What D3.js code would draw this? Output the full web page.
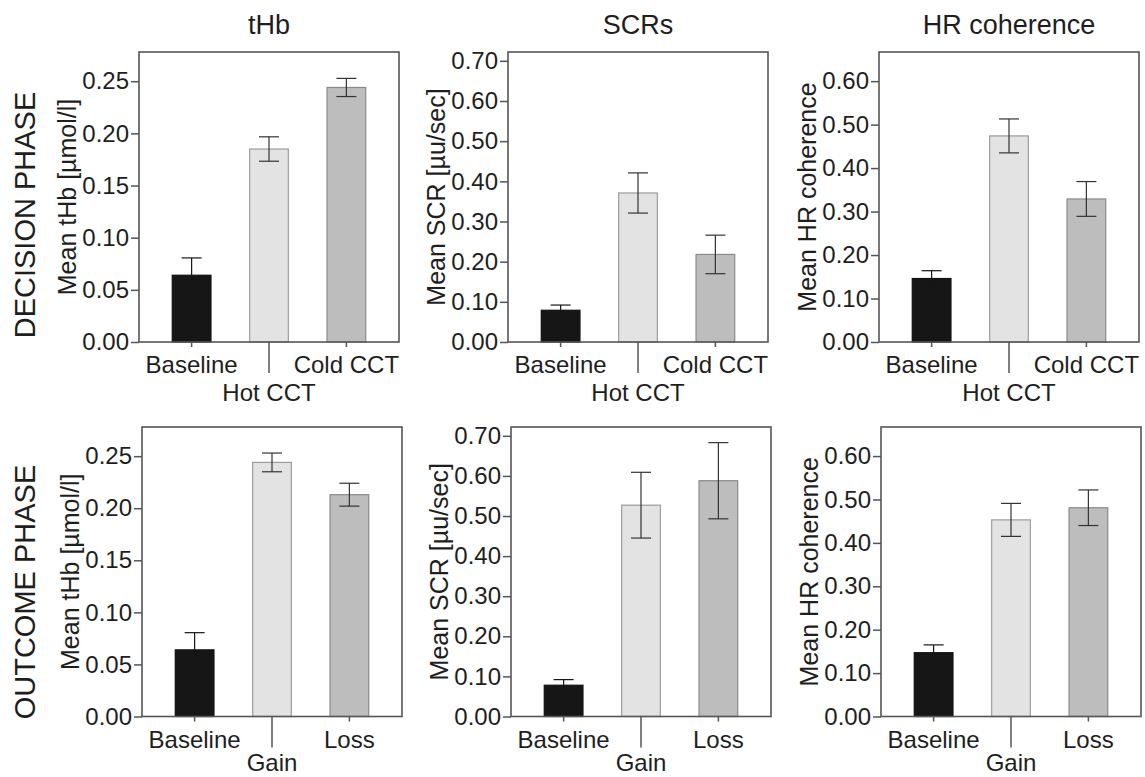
<!DOCTYPE html>
<html lang="en">
<head>
    <meta charset="UTF-8">
    <title>Decision / outcome phase bars</title>
    <script src="https://d3js.org/d3.v7.min.js"></script>
    <style>
        body { margin: 0; background: #fff; }
        text { font-family: "Liberation Sans", Arial, sans-serif; fill: #1e1e1e; }
        .tick text { font-size: 24px; }
        .xlab { font-size: 24px; }
        .ytitle { font-size: 25px; }
        .ptitle { font-size: 27px; }
        .rowlab { font-size: 29px; }
    </style>
</head>
<body>
<script>
    // categories
    const decisionCats = ["Baseline", "Hot CCT", "Cold CCT"];
    const outcomeCats = ["Baseline", "Gain", "Loss"];

    // panel titles / labels
    const colTitles = ["tHb", "SCRs", "HR coherence"];
    const rowTitles = ["DECISION PHASE", "OUTCOME PHASE"];
    const yTitles = ["Mean tHb [µmol/l]", "Mean SCR [µu/sec]", "Mean HR coherence"];

    // y tick values
    const thbTicks = [0, 0.05, 0.10, 0.15, 0.20, 0.25];
    const scrTicks = [0, 0.10, 0.20, 0.30, 0.40, 0.50, 0.60, 0.70];
    const hrTicks = [0, 0.10, 0.20, 0.30, 0.40, 0.50, 0.60];
    const yMax = [0.278, 0.722, 0.667];

    // means and error
    const thbDecision = [0.064, 0.185, 0.244];
    const thbDecisionErr = [0.0166, 0.0117, 0.0087];
    const scrDecision = [0.079, 0.371, 0.218];
    const scrDecisionErr = [0.013, 0.050, 0.048];
    const hrDecision = [0.146, 0.474, 0.329];
    const hrDecisionErr = [0.018, 0.039, 0.040];

    const thbOutcome = [0.064, 0.244, 0.213];
    const thbOutcomeErr = [0.0165, 0.009, 0.011];
    const scrOutcome = [0.078, 0.527, 0.588];
    const scrOutcomeErr = [0.014, 0.082, 0.095];
    const hrOutcome = [0.147, 0.453, 0.481];
    const hrOutcomeErr = [0.018, 0.038, 0.041];

    const fills = ["#161616", "#e3e3e3", "#bdbdbd"];
    const strokes = ["#111", "#9c9c9c", "#8a8a8a"];
    const errColors = ["#161616", "#333", "#333"];

    // layout
    const width = 1145, height = 777;
    const panelW = 260;
    const lefts = [[139, 508, 879], [142, 511, 881]];
    const tops = [52, 427];
    const bottoms = [342, 716.5];
    const rowLabelY = [215, 592];

    const svg = d3.select("body").append("svg").attr("width", width).attr("height", height);

    const rows = [
        {cats: decisionCats, vals: [thbDecision, scrDecision, hrDecision], errs: [thbDecisionErr, scrDecisionErr, hrDecisionErr]},
        {cats: outcomeCats, vals: [thbOutcome, scrOutcome, hrOutcome], errs: [thbOutcomeErr, scrOutcomeErr, hrOutcomeErr]}
    ];
    const tickSets = [thbTicks, scrTicks, hrTicks];

    rows.forEach(function (row, r) {
        // row label
        svg.append("text").attr("class", "rowlab")
            .attr("transform", "translate(35," + rowLabelY[r] + ") rotate(-90)")
            .attr("text-anchor", "middle")
            .text(rowTitles[r]);

        row.vals.forEach(function (vals, c) {
            drawPanel(r, c, row.cats, vals, row.errs[c]);
        });
    });

    // column titles
    colTitles.forEach(function (t, c) {
        svg.append("text").attr("class", "ptitle")
            .attr("x", lefts[0][c] + panelW / 2).attr("y", 34)
            .attr("text-anchor", "middle").text(t);
    });

    function drawPanel(r, c, cats, vals, errs) {
        const h = bottoms[r] - tops[r];
        const g = svg.append("g").attr("transform", "translate(" + lefts[r][c] + "," + tops[r] + ")");

        const x = d3.scaleBand().domain(cats).range([0, panelW]).paddingInner(0.5).paddingOuter(0.43);
        const y = d3.scaleLinear().domain([0, yMax[c]]).range([h, 0]);

        // bars
        g.selectAll("rect.bar").data(vals).enter().append("rect")
            .attr("class", "bar")
            .attr("x", (d, i) => x(cats[i]))
            .attr("y", d => y(d))
            .attr("width", x.bandwidth())
            .attr("height", d => h - y(d))
            .attr("fill", (d, i) => fills[i])
            .attr("stroke", (d, i) => strokes[i])
            .attr("stroke-width", 1.2);

        // error bars
        const eb = g.selectAll("g.err").data(vals).enter().append("g").attr("class", "err")
            .attr("stroke", (d, i) => errColors[i]).attr("stroke-width", 1.2);
        const cx = i => x(cats[i]) + x.bandwidth() / 2;
        eb.append("line")
            .attr("x1", (d, i) => cx(i)).attr("x2", (d, i) => cx(i))
            .attr("y1", (d, i) => y(d - errs[i])).attr("y2", (d, i) => y(d + errs[i]));
        eb.append("line")
            .attr("x1", (d, i) => cx(i) - 10).attr("x2", (d, i) => cx(i) + 10)
            .attr("y1", (d, i) => y(d + errs[i])).attr("y2", (d, i) => y(d + errs[i]));
        eb.append("line")
            .attr("x1", (d, i) => cx(i) - 10).attr("x2", (d, i) => cx(i) + 10)
            .attr("y1", (d, i) => y(d - errs[i])).attr("y2", (d, i) => y(d - errs[i]));

        // frame
        g.append("rect").attr("width", panelW).attr("height", h)
            .attr("fill", "none").attr("stroke", "#555").attr("stroke-width", 1.6);

        // y axis
        const ya = g.append("g").call(d3.axisLeft(y).tickValues(tickSets[c]).tickFormat(d3.format(".2f")).tickSize(8).tickPadding(2));
        ya.select(".domain").remove();
        ya.selectAll(".tick line").attr("stroke", "#555").attr("stroke-width", 1.5);
        ya.selectAll(".tick text").attr("fill", "#1e1e1e").attr("font-family", null).attr("font-size", null);

        g.append("text").attr("class", "ytitle")
            .attr("transform", "translate(-63," + (h / 2) + ") rotate(-90)")
            .attr("text-anchor", "middle").text(yTitles[c]);

        // x ticks and staggered labels
        cats.forEach(function (cat, i) {
            const len = i === 1 ? 31 : 5;
            g.append("line").attr("x1", cx(i)).attr("x2", cx(i))
                .attr("y1", h).attr("y2", h + len)
                .attr("stroke", "#555").attr("stroke-width", 1.5);
            g.append("text").attr("class", "xlab")
                .attr("x", cx(i)).attr("y", h + (i === 1 ? (r === 0 ? 59 : 54) : 31))
                .attr("text-anchor", "middle").text(cat);
        });
    }
</script>
</body>
</html>
